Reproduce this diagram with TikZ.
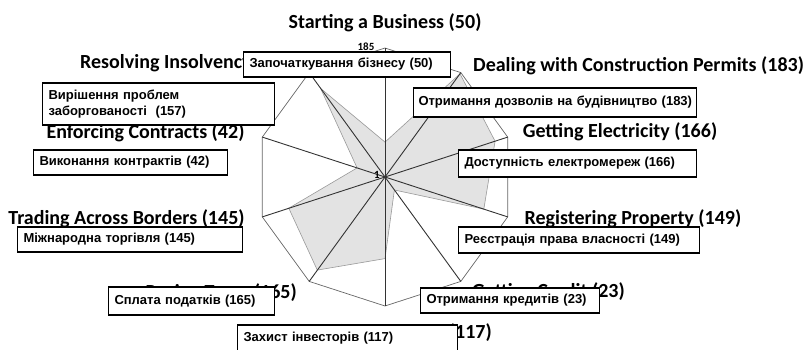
\documentclass[tikz,border=0pt]{standalone}
\usepackage{fontspec}
\setmainfont{Liberation Sans}
\newfontfamily\enfont{Carlito}
\usepackage{tikz}
\tikzstyle{spoke line}=[draw,black!80,line width=.9pt]
\tikzstyle{grid ring}=[draw,black!60,line width=.7pt]
\tikzstyle{data area}=[fill=black!11,draw=black!40,line width=.6pt]
\tikzstyle{en label}=[inner sep=0pt,font=\enfont\bfseries\fontsize{20}{22}\selectfont]
\tikzstyle{ua box}=[draw,fill=white,line width=1.5pt,inner xsep=6pt,inner ysep=0pt,align=left,font=\bfseries\fontsize{13}{15.5}\selectfont]

\begin{document}
\begin{tikzpicture}[x=1pt,y=-1pt]
        \useasboundingbox (0,0) rectangle (803,350);
        % centre and outer ring of the chart
        \coordinate (c) at (385,177);
        \coordinate (o1) at (385,48);
        \coordinate (o2) at (460.8,72.6);
        \coordinate (o3) at (507.7,137.1);
        \coordinate (o4) at (507.7,216.9);
        \coordinate (o5) at (460.8,281.4);
        \coordinate (o6) at (385,306);
        \coordinate (o7) at (309.2,281.4);
        \coordinate (o8) at (262.3,216.9);
        \coordinate (o9) at (262.3,137.1);
        \coordinate (o10) at (309.2,72.6);
        % data points
        \coordinate (v1) at (385,142.1);
        \coordinate (v2) at (460.0,73.8);
        \coordinate (v3) at (495.1,141.2);
        \coordinate (v4) at (483.8,209.1);
        \coordinate (v5) at (394.4,190.0);
        \coordinate (v6) at (385,258.6);
        \coordinate (v7) at (317.3,270.1);
        \coordinate (v8) at (288.8,208.2);
        \coordinate (v9) at (357.1,167.9);
        \coordinate (v10) at (320.6,88.4);
        \path[data area] (v1) -- (v2) -- (v3) -- (v4) -- (v5) -- (v6) -- (v7) -- (v8) -- (v9) -- (v10) -- cycle;
        \path[grid ring] (o1) -- (o2) -- (o3) -- (o4) -- (o5) -- (o6) -- (o7) -- (o8) -- (o9) -- (o10) -- cycle;
        \draw[spoke line] (c) -- (o1);
        \draw[spoke line] (c) -- (o2);
        \draw[spoke line] (c) -- (o3);
        \draw[spoke line] (c) -- (o4);
        \draw[spoke line] (c) -- (o5);
        \draw[spoke line] (c) -- (o6);
        \draw[spoke line] (c) -- (o7);
        \draw[spoke line] (c) -- (o8);
        \draw[spoke line] (c) -- (o9);
        \draw[spoke line] (c) -- (o10);
        \node[inner sep=0pt,font=\enfont\bfseries\fontsize{11}{12}\selectfont] (max) at (366,47) {185};
        \node[inner sep=0pt,font=\enfont\bfseries\fontsize{11}{12}\selectfont] (min) at (377,175) {1};
        % english axis labels
        \node[en label] (start en) at (385,23) {Starting a Business (50)};
        \node[en label,anchor=west] (insolv en) at (80,63) {Resolving Insolvency (157)};
        \node[en label,anchor=west] (permit en) at (473,66) {Dealing with Construction Permits (183)};
        \node[en label] (contract en) at (145.5,133) {Enforcing Contracts (42)};
        \node[en label] (power en) at (620,132) {Getting Electricity (166)};
        \node[en label] (trade en) at (126.5,219) {Trading Across Borders (145)};
        \node[en label] (property en) at (633,219) {Registering Property (149)};
        \node[en label,anchor=east] (tax en) at (297,293) {Paying Taxes (165)};
        \node[en label,anchor=east] (credit en) at (625,292) {Getting Credit (23)};
        \node[en label,anchor=east] (invest en) at (492,333) {Protecting Investors (117)};
        % ukrainian boxes
        \node[ua box,text width=195pt,minimum height=25pt] (start ua) at (347,64.5) {\mbox{Започаткування бізнесу (50)}};
        \node[ua box,text width=273pt,minimum height=29pt,inner xsep=5pt] (permit ua) at (555,102.5) {\mbox{Отримання дозволів на будівництво (183)}};
        \node[ua box,text width=220pt,minimum height=42pt] (insolv ua) at (158.5,104) {Вирішення проблем\\заборгованості\ \ (157)};
        \node[ua box,text width=182pt,minimum height=25pt] (contract ua) at (130.5,162.5) {\mbox{Виконання контрактів (42)}};
        \node[ua box,text width=226pt,minimum height=27pt] (power ua) at (577.5,163.5) {\mbox{Доступність електромереж (166)}};
        \node[ua box,text width=213pt,minimum height=25pt] (trade ua) at (130,239.5) {\mbox{Міжнародна торгівля (145)}};
        \node[ua box,text width=229pt,minimum height=26pt] (property ua) at (579,240) {\mbox{Реєстрація права власності (149)}};
        \node[ua box,text width=154pt,minimum height=28pt] (tax ua) at (191.5,301) {\mbox{Сплата податків (165)}};
        \node[ua box,text width=167pt,minimum height=25pt] (credit ua) at (510,300.5) {\mbox{Отримання кредитів (23)}};
        \node[ua box,text width=208pt,minimum height=27pt] (invest ua) at (347.5,338.5) {\mbox{Захист інвесторів (117)}};
      \end{tikzpicture}
\end{document}
